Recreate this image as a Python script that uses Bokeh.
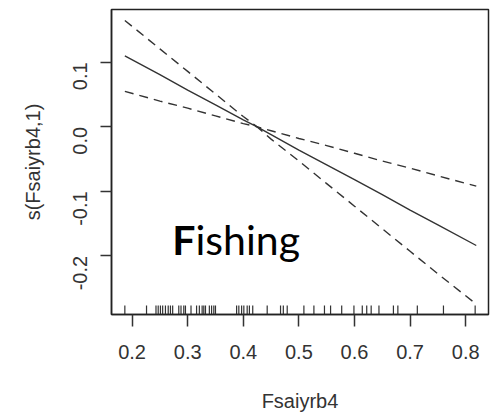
import math
from bokeh.plotting import figure
from bokeh.models import FixedTicker, NumeralTickFormatter, Label
from bokeh.embed import file_html
from bokeh.resources import INLINE

# smooth term estimate and its confidence band
x_vals = [0.187, 0.25, 0.30, 0.35, 0.40, 0.425, 0.45, 0.50, 0.55, 0.60, 0.65, 0.70, 0.75, 0.819]
fit_vals = [0.110, 0.081, 0.057, 0.034, 0.011, 0.0, -0.012, -0.036, -0.059, -0.082, -0.105, -0.129, -0.152, -0.184]
upper_vals = [0.165, 0.121, 0.086, 0.051, 0.016, 0.0, -0.006, -0.018, -0.029, -0.041, -0.053, -0.064, -0.076, -0.092]
lower_vals = [0.055, 0.040, 0.029, 0.017, 0.005, 0.0, -0.019, -0.053, -0.088, -0.123, -0.158, -0.193, -0.228, -0.275]

# rug of observed Fsaiyrb4 values
rug_x = [0.187, 0.226, 0.243, 0.247, 0.251, 0.255, 0.260, 0.265, 0.269, 0.273,
         0.284, 0.288, 0.293, 0.296, 0.306, 0.316, 0.321, 0.326, 0.329, 0.332,
         0.339, 0.343, 0.347, 0.350, 0.388, 0.392, 0.397, 0.401, 0.407, 0.411,
         0.417, 0.443, 0.467, 0.472, 0.479, 0.509, 0.527, 0.546, 0.557, 0.577,
         0.599, 0.614, 0.622, 0.630, 0.644, 0.670, 0.678, 0.713, 0.760, 0.817]

x_ticks = [0.2, 0.3, 0.4, 0.5, 0.6, 0.7, 0.8]
y_ticks = [-0.2, -0.1, 0.0, 0.1]
x_label = "Fsaiyrb4"
y_label = "s(Fsaiyrb4,1)"

X_START, X_END = 0.163, 0.841
Y_START, Y_END = -0.291, 0.182

p = figure(width=490, height=414, x_range=(X_START, X_END), y_range=(Y_START, Y_END),
           output_backend="svg", toolbar_location=None,
           min_border_left=111, min_border_right=2, min_border_top=9, min_border_bottom=97)
p.background_fill_color = "white"
p.border_fill_color = "white"
p.grid.visible = False
p.outline_line_color = "#222222"
p.outline_line_width = 1.5

ink = "#333333"
for ax in (p.xaxis[0], p.yaxis[0]):
    ax.major_tick_in = 0
    ax.minor_tick_in = 0
    ax.minor_tick_out = 0
    ax.major_tick_line_color = ink
    ax.major_tick_line_width = 1.5
    ax.axis_line_color = "#222222"
    ax.axis_line_width = 1.5
    ax.major_label_text_font = "Liberation Sans"
    ax.major_label_text_font_size = "20px"
    ax.major_label_text_color = ink
    ax.axis_label_text_font = "Liberation Sans"
    ax.axis_label_text_font_size = "20px"
    ax.axis_label_text_font_style = "normal"
    ax.axis_label_text_color = ink
    ax.formatter = NumeralTickFormatter(format="0.0")

p.xaxis.ticker = FixedTicker(ticks=x_ticks)
p.yaxis.ticker = FixedTicker(ticks=y_ticks)
p.xaxis.major_tick_out = 12
p.yaxis.major_tick_out = 11
p.xaxis.major_label_standoff = 18
p.yaxis.major_label_standoff = 20
p.yaxis.major_label_orientation = math.pi / 2
p.xaxis.axis_label = x_label
p.yaxis.axis_label = y_label
p.xaxis.axis_label_standoff = 28
p.yaxis.axis_label_standoff = 20

p.line(x_vals, fit_vals, line_color=ink, line_width=1.4)
p.line(x_vals, upper_vals, line_color=ink, line_width=1.4, line_dash="9 6")
p.line(x_vals, lower_vals, line_color=ink, line_width=1.4, line_dash="9 6")

rug_len = (Y_END - Y_START) * 9 / 308
p.segment(x0=rug_x, y0=[Y_START] * len(rug_x), x1=rug_x, y1=[Y_START + rug_len] * len(rug_x),
          line_color=ink, line_width=1.2)

p.add_layout(Label(x=0.314, y=-0.174, text="F", text_font="Lato", text_font_size="41px",
                   text_font_style="bold", text_align="right", text_baseline="alphabetic",
                   text_color="black"))
p.add_layout(Label(x=0.314, y=-0.174, text="ishing", text_font="Lato", text_font_size="41px",
                   text_font_style="normal", text_align="left", text_baseline="alphabetic",
                   text_color="black"))

open("out.html", "w").write(file_html(p, INLINE))
